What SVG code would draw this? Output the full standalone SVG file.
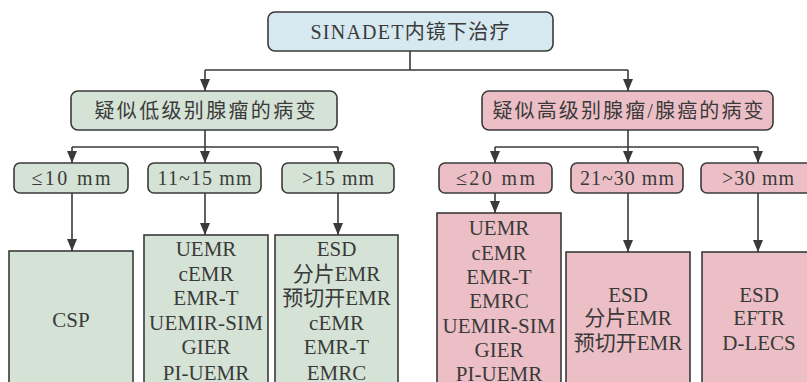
<svg xmlns="http://www.w3.org/2000/svg" width="807" height="382" viewBox="0 0 807 382">
<style>
text{font-family:"Liberation Serif","Noto Sans CJK SC",serif;fill:#3a3a3a;text-anchor:middle}
.b{stroke:#3a3a3a;stroke-width:1.6}
.blue{fill:#d6e9f1}
.g{fill:#d5e3d6}
.p{fill:#ecbfc6}
.t{font-size:20px}
.s{font-size:20px}
.m{font-size:21px}
.c{fill:none;stroke:#3a3a3a;stroke-width:1.6}
</style>
<defs>
<marker id="a" markerWidth="10" markerHeight="12" refX="5" refY="11" orient="auto-start-reverse" markerUnits="userSpaceOnUse" viewBox="0 0 10 12">
<path d="M0,0 L10,0 L5,12 Z" fill="#3a3a3a" transform="rotate(-90 5 6)"/>
</marker>
<marker id="ar" markerWidth="10" markerHeight="12" refX="5" refY="12" orient="0" markerUnits="userSpaceOnUse" viewBox="0 0 10 12">
<path d="M0,0 L10,0 L5,12 Z" fill="#3a3a3a"/>
</marker>
</defs>
<rect width="807" height="382" fill="#fff"/>
<g id="connectors">
<path class="c" d="M410,51 V70 M205,70 H628"/>
<path class="c" d="M205,70 V91" marker-end="url(#ar)"/>
<path class="c" d="M628,70 V91" marker-end="url(#ar)"/>
<path class="c" d="M205,130 V147 M72,147 H338"/>
<path class="c" d="M72,147 V163" marker-end="url(#ar)"/>
<path class="c" d="M205,147 V163" marker-end="url(#ar)"/>
<path class="c" d="M338,147 V163" marker-end="url(#ar)"/>
<path class="c" d="M628,130 V147 M495,147 H758"/>
<path class="c" d="M495,147 V163" marker-end="url(#ar)"/>
<path class="c" d="M628,147 V163" marker-end="url(#ar)"/>
<path class="c" d="M758,147 V163" marker-end="url(#ar)"/>
<path class="c" d="M72,193 V251" marker-end="url(#ar)"/>
<path class="c" d="M205,193 V235" marker-end="url(#ar)"/>
<path class="c" d="M338,193 V235" marker-end="url(#ar)"/>
<path class="c" d="M495,193 V213" marker-end="url(#ar)"/>
<path class="c" d="M628,193 V252" marker-end="url(#ar)"/>
<path class="c" d="M758,193 V252" marker-end="url(#ar)"/>
</g>
<g id="root">
<rect class="b blue" x="268" y="12" width="285" height="39" rx="7"/>
<text class="t" x="410" y="39" textLength="199">SINADET内镜下治疗</text>
</g>
<g id="low">
<rect class="b g" x="71" y="91" width="266" height="39" rx="7"/>
<text class="t" x="205" y="118" textLength="221">疑似低级别腺瘤的病变</text>
</g>
<g id="high">
<rect class="b p" x="482" y="91" width="291" height="39" rx="7"/>
<text class="t" x="628" y="118" textLength="271">疑似高级别腺瘤/腺癌的病变</text>
</g>
<g id="l1">
<rect class="b g" x="14" y="163" width="114" height="30" rx="6"/>
<text class="s" x="71" y="185" textLength="79">≤10 mm</text>
</g>
<g id="l2">
<rect class="b g" x="148" y="163" width="113" height="30" rx="6"/>
<text class="s" x="204.5" y="185" textLength="94">11~15 mm</text>
</g>
<g id="l3">
<rect class="b g" x="282" y="163" width="112" height="30" rx="6"/>
<text class="s" x="338" y="185" textLength="72">&gt;15 mm</text>
</g>
<g id="h1">
<rect class="b p" x="439" y="163" width="113" height="30" rx="6"/>
<text class="s" x="495.5" y="185" textLength="79">≤20 mm</text>
</g>
<g id="h2">
<rect class="b p" x="571" y="163" width="112" height="30" rx="6"/>
<text class="s" x="627" y="185" textLength="94">21~30 mm</text>
</g>
<g id="h3">
<rect class="b p" x="701" y="163" width="114" height="30" rx="6"/>
<text class="s" x="758" y="185" textLength="72">&gt;30 mm</text>
</g>
<g id="lt1">
<rect class="b g" x="9" y="251" width="124" height="140"/>
<text class="m" x="71" y="327">CSP</text>
</g>
<g id="lt2">
<rect class="b g" x="144" y="235" width="124" height="156"/>
<text class="m" x="206" y="256">UEMR</text>
<text class="m" x="206" y="281">cEMR</text>
<text class="m" x="206" y="305">EMR-T</text>
<text class="m" x="206" y="330" textLength="114">UEMIR-SIM</text>
<text class="m" x="206" y="354">GIER</text>
<text class="m" x="206" y="380">PI-UEMR</text>
</g>
<g id="lt3">
<rect class="b g" x="275" y="235" width="123" height="156"/>
<text class="m" x="336.5" y="256">ESD</text>
<text class="m" x="336.5" y="281">分片EMR</text>
<text class="m" x="336.5" y="305">预切开EMR</text>
<text class="m" x="336.5" y="330">cEMR</text>
<text class="m" x="336.5" y="354">EMR-T</text>
<text class="m" x="336.5" y="380">EMRC</text>
</g>
<g id="ht1">
<rect class="b p" x="437" y="213" width="124" height="178"/>
<text class="m" x="499" y="235">UEMR</text>
<text class="m" x="499" y="260">cEMR</text>
<text class="m" x="499" y="284">EMR-T</text>
<text class="m" x="499" y="308">EMRC</text>
<text class="m" x="499" y="333" textLength="113">UEMIR-SIM</text>
<text class="m" x="499" y="357">GIER</text>
<text class="m" x="499" y="381">PI-UEMR</text>
</g>
<g id="ht2">
<rect class="b p" x="566" y="252" width="124" height="139"/>
<text class="m" x="628" y="302">ESD</text>
<text class="m" x="628" y="325">分片EMR</text>
<text class="m" x="628" y="350">预切开EMR</text>
</g>
<g id="ht3">
<rect class="b p" x="702" y="252" width="124" height="139"/>
<text class="m" x="759" y="302">ESD</text>
<text class="m" x="759" y="325">EFTR</text>
<text class="m" x="759" y="350">D-LECS</text>
</g>
</svg>
